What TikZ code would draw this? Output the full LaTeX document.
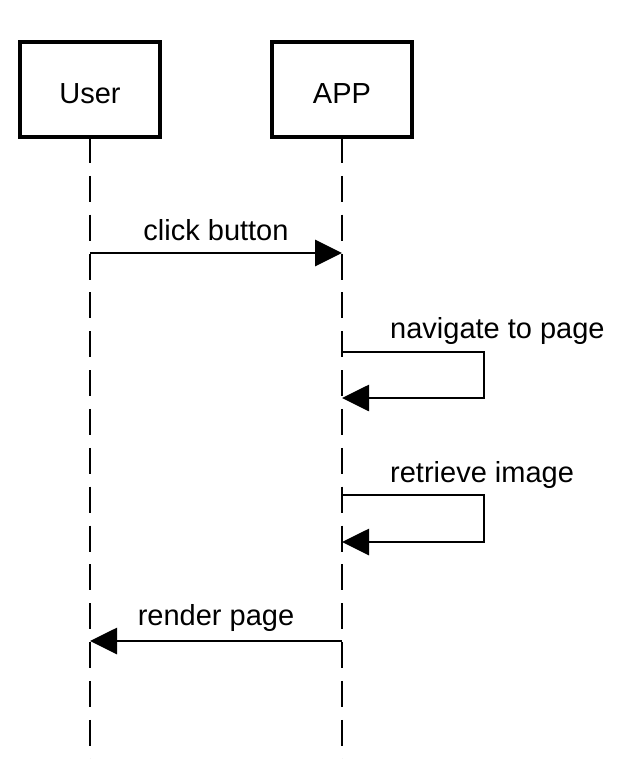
\documentclass[tikz,border=0pt]{standalone}
\usepackage{fontspec}
\setmainfont{Liberation Sans}
\usetikzlibrary{arrows.meta}
\tikzset{
  actor/.style={draw, line width=4.5pt, minimum width=140pt, minimum height=95pt,
    outer sep=0pt, text height=29pt, text depth=0pt, font=\fontsize{29}{35}\selectfont},
  lifeline/.style={line width=2.5pt, dash pattern=on 26pt off 12.85pt},
  msg/.style={line width=2.8pt, -{Triangle[length=27pt,width=26pt]}},
  msglabel/.style={inner sep=0pt, font=\fontsize{29}{35}\selectfont},
}
\begin{document}
\begin{tikzpicture}[x=1pt,y=-1pt]
        \useasboundingbox (0,0) rectangle (620,759);

        % actors and lifelines
        \node[actor] (user) at (90,89.5) {User};
        \node[actor] (app) at (342,89.5) {APP};
        \coordinate (user-end) at (90,759);
        \coordinate (app-end) at (342,759);
        \draw[lifeline] (user.south) -- (user-end);
        \draw[lifeline] (app.south) -- (app-end);

        % click button
        \coordinate (click-u) at (90,253);
        \coordinate (click-a) at (342,253);
        \draw[msg] (click-u) -- (click-a);
        \node[msglabel, anchor=base] (click) at (216,240) {click button};

        % navigate to page
        \coordinate (nav-a) at (342,352);
        \coordinate (nav-b) at (342,398);
        \draw[msg] (nav-a) -- ++(142,0) |- (nav-b);
        \node[msglabel, anchor=base west] (nav) at (390,338) {navigate to page};

        % retrieve image
        \coordinate (img-a) at (342,495);
        \coordinate (img-b) at (342,542);
        \draw[msg] (img-a) -- ++(142,0) |- (img-b);
        \node[msglabel, anchor=base west] (img) at (390,482) {retrieve image};

        % render page
        \coordinate (render-a) at (342,641);
        \coordinate (render-u) at (90,641);
        \draw[msg] (render-a) -- (render-u);
        \node[msglabel, anchor=base] (render) at (216,625) {render page};
\end{tikzpicture}
\end{document}
